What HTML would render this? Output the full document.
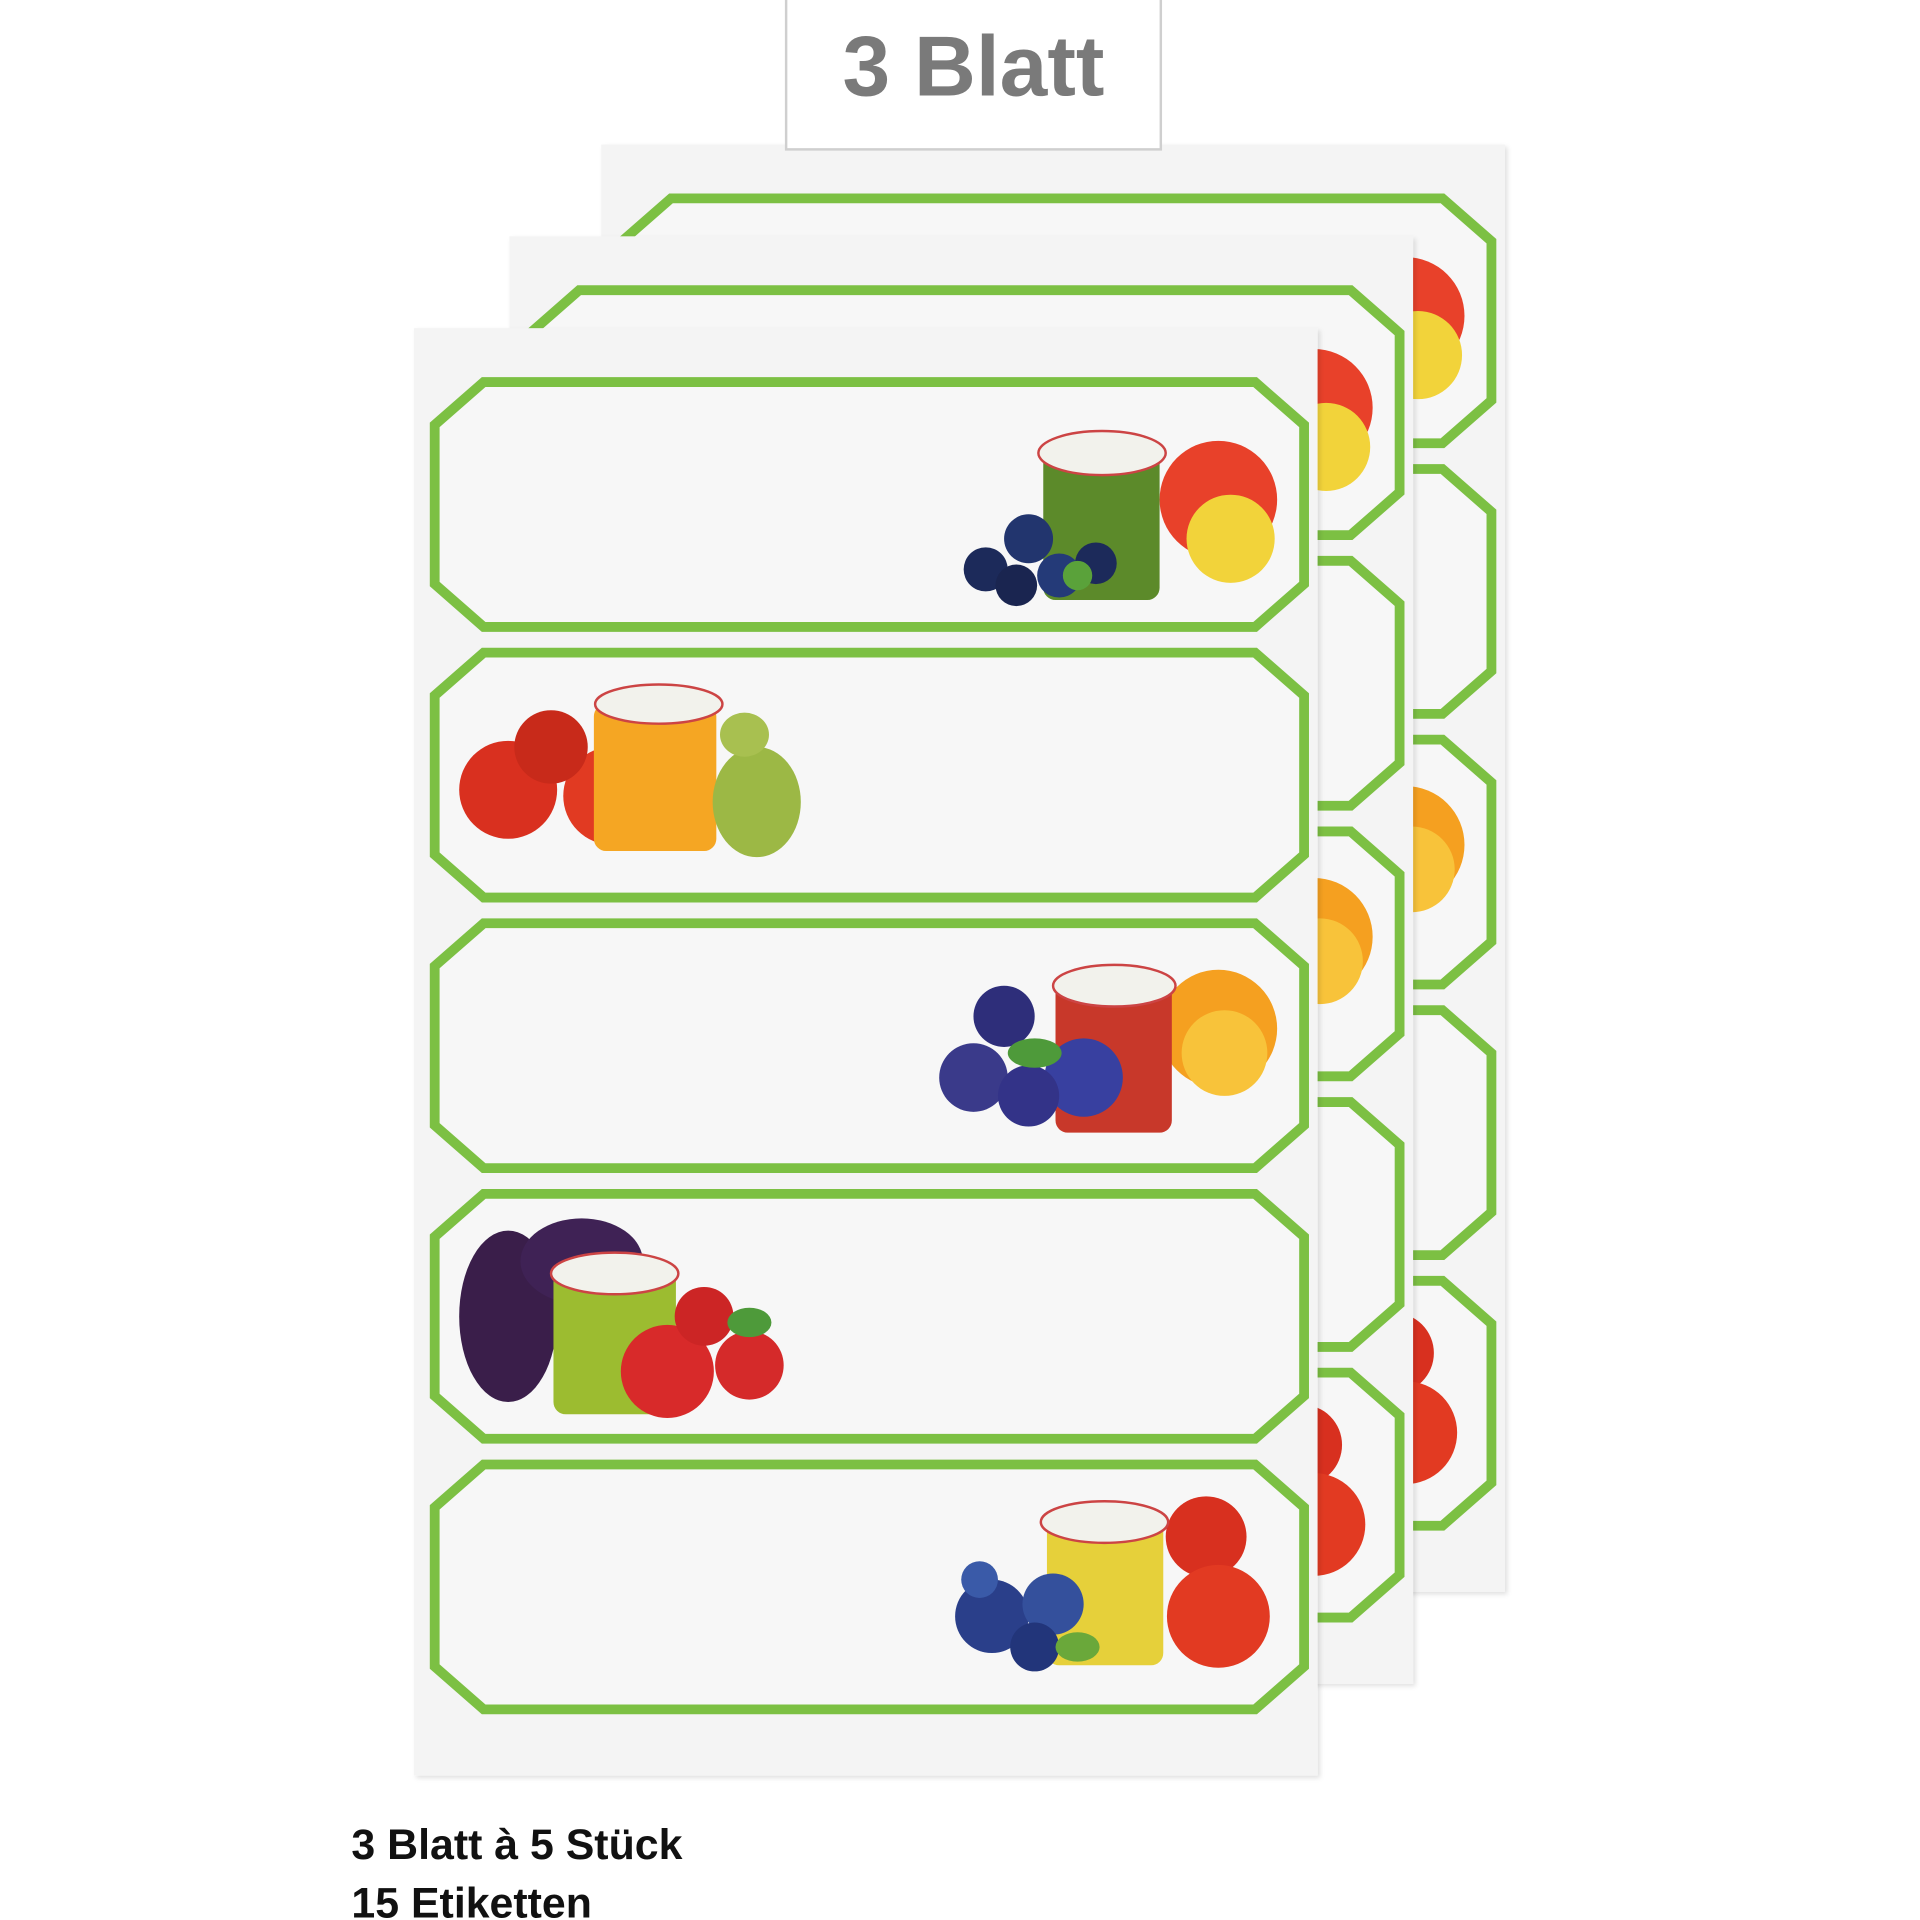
<!DOCTYPE html>
<html><head><meta charset="utf-8"><style>
html,body{margin:0;padding:0;background:#fff;width:1920px;height:1920px;overflow:hidden}
svg{display:block}
</style></head><body>
<svg width="1920" height="1920" viewBox="0 0 1568 1568" xmlns="http://www.w3.org/2000/svg">
<defs>
<filter id="sh" x="-5%" y="-5%" width="110%" height="110%"><feDropShadow dx="2" dy="2" stdDeviation="2" flood-color="#000" flood-opacity="0.12"/></filter>
<g id="lab"><polygon points="395,312 1025,312 1065,347 1065,477 1025,512 395,512 355,477 355,347" fill="#f7f7f7" stroke="#7cc043" stroke-width="8"/></g>
<g id="f1">
<circle cx="995" cy="408" r="48" fill="#e8412a"/><circle cx="1005" cy="440" r="36" fill="#f2d33a"/>
<rect x="852" y="360" width="95" height="130" rx="10" fill="#5c8a2a"/><ellipse cx="900" cy="370" rx="52" ry="18" fill="#f2f2ec" stroke="#c44" stroke-width="2"/>
<circle cx="805" cy="465" r="18" fill="#1c2a5a"/><circle cx="840" cy="440" r="20" fill="#22356e"/><circle cx="830" cy="478" r="17" fill="#1a2550"/><circle cx="865" cy="470" r="18" fill="#243a78"/><circle cx="895" cy="460" r="17" fill="#1c2a5a"/>
<circle cx="880" cy="470" r="12" fill="#5aa23a"/>
</g>
<g id="f2">
<circle cx="415" cy="645" r="40" fill="#d9301f"/><circle cx="500" cy="650" r="40" fill="#e13a22"/><circle cx="450" cy="610" r="30" fill="#c82a1a"/>
<rect x="485" y="575" width="100" height="120" rx="10" fill="#f5a623"/><ellipse cx="538" cy="575" rx="52" ry="16" fill="#f2f2ec" stroke="#c44" stroke-width="2"/>
<ellipse cx="618" cy="655" rx="36" ry="45" fill="#9cb845"/><ellipse cx="608" cy="600" rx="20" ry="18" fill="#a8c050"/>
</g>
<g id="f3">
<circle cx="995" cy="840" r="48" fill="#f5a020"/><circle cx="1000" cy="860" r="35" fill="#f8c33a"/>
<rect x="862" y="800" width="95" height="125" rx="10" fill="#c8382a"/><ellipse cx="910" cy="805" rx="50" ry="17" fill="#f2f2ec" stroke="#c44" stroke-width="2"/>
<circle cx="795" cy="880" r="28" fill="#3a3a8a"/><circle cx="820" cy="830" r="25" fill="#2e2e7a"/><circle cx="885" cy="880" r="32" fill="#3840a0"/><circle cx="840" cy="895" r="25" fill="#333388"/>
<ellipse cx="845" cy="860" rx="22" ry="12" fill="#4e9a3a"/>
</g>
<g id="f4">
<ellipse cx="415" cy="1075" rx="40" ry="70" fill="#3a1e4a"/><ellipse cx="475" cy="1030" rx="50" ry="35" fill="#3f2255"/>
<rect x="452" y="1035" width="100" height="120" rx="10" fill="#9cbc30"/><ellipse cx="502" cy="1040" rx="52" ry="17" fill="#f2f2ec" stroke="#c44" stroke-width="2"/>
<circle cx="545" cy="1120" r="38" fill="#d82a2a"/><circle cx="612" cy="1115" r="28" fill="#d52a2a"/><circle cx="575" cy="1075" r="24" fill="#cc2525"/>
<ellipse cx="612" cy="1080" rx="18" ry="12" fill="#4e9a3a"/>
</g>
<g id="f5">
<circle cx="985" cy="1255" r="33" fill="#d8301f"/><circle cx="995" cy="1320" r="42" fill="#e23a22"/>
<rect x="855" y="1240" width="95" height="120" rx="10" fill="#e6d03a"/><ellipse cx="902" cy="1243" rx="52" ry="17" fill="#f2f2ec" stroke="#c44" stroke-width="2"/>
<circle cx="810" cy="1320" r="30" fill="#2a3f8a"/><circle cx="860" cy="1310" r="25" fill="#34509c"/><circle cx="845" cy="1345" r="20" fill="#22357a"/><circle cx="800" cy="1290" r="15" fill="#3a5aa8"/>
<ellipse cx="880" cy="1345" rx="18" ry="12" fill="#6aa83a"/>
</g>
<g id="sheet">
<rect x="338" y="268" width="738" height="1182" fill="#f4f4f4" filter="url(#sh)"/>
<use href="#lab"/>
<use href="#lab" transform="translate(0,221)"/>
<use href="#lab" transform="translate(0,442)"/>
<use href="#lab" transform="translate(0,663)"/>
<use href="#lab" transform="translate(0,884)"/>
<use href="#f1"/><use href="#f2"/><use href="#f3"/><use href="#f4"/><use href="#f5"/>
</g>
</defs>
<rect x="0" y="0" width="1568" height="1568" fill="#fff"/>
<use href="#sheet" transform="translate(153,-150)"/>
<use href="#sheet" transform="translate(78,-75)"/>
<use href="#sheet"/>
<rect x="642" y="-2" width="306" height="124" fill="#fff" stroke="#cfcfcf" stroke-width="2"/>
<text x="795" y="78" text-anchor="middle" font-family="Liberation Sans, sans-serif" font-weight="bold" font-size="70" fill="#7a7a7a">3 Blatt</text>
<text x="287" y="1518" font-family="Liberation Sans, sans-serif" font-weight="bold" font-size="35" fill="#111">3 Blatt à 5 Stück</text>
<text x="287" y="1566" font-family="Liberation Sans, sans-serif" font-weight="bold" font-size="35" fill="#111">15 Etiketten</text>
</svg>
</body></html>
